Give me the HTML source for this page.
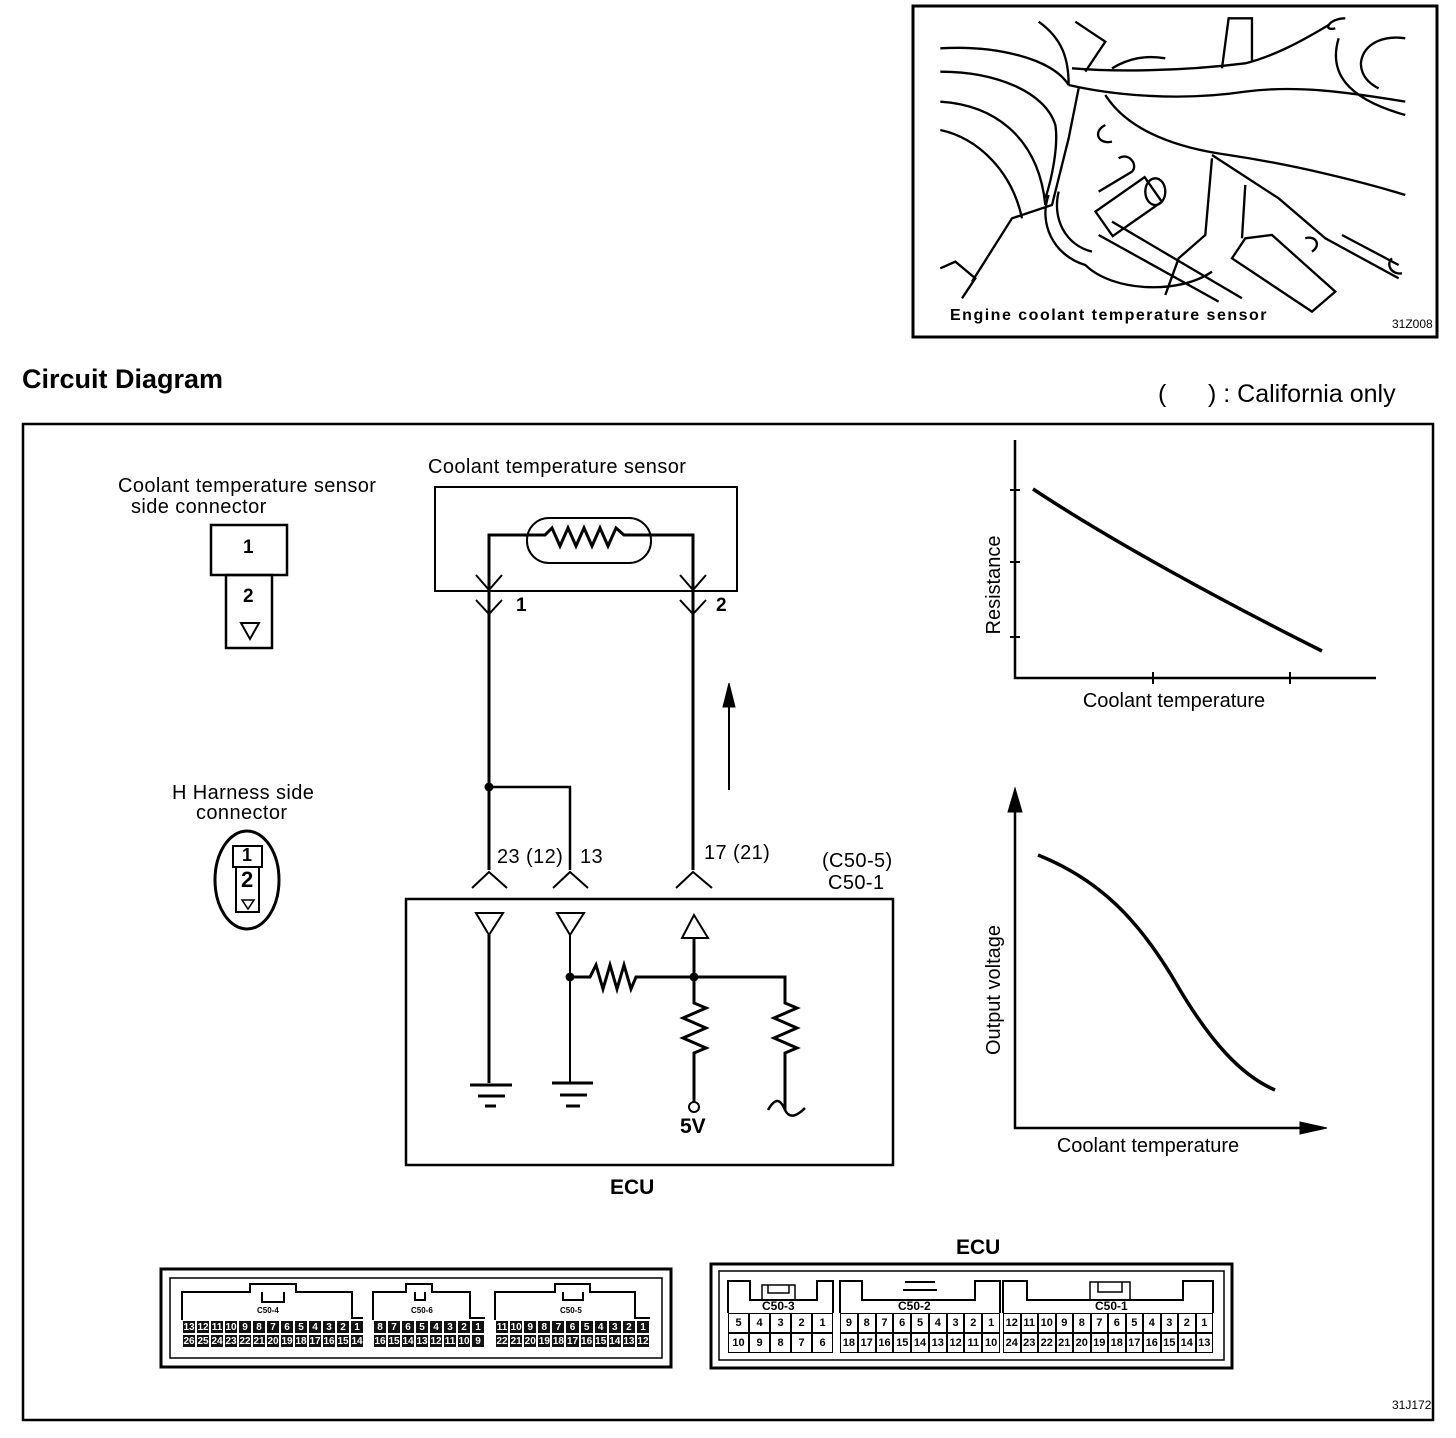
<!DOCTYPE html>
<html><head><meta charset="utf-8"><style>
body{margin:0;background:#fff;width:1456px;height:1438px;position:relative;overflow:hidden;font-family:"Liberation Sans",Arial,sans-serif;}
.t{position:absolute;white-space:nowrap;color:#000;}
.l{font-size:20px;letter-spacing:0.4px;}
.row{position:absolute;display:flex;box-sizing:border-box;}
.row span{flex:1;border:1px solid #000;box-sizing:border-box;text-align:center;font-weight:bold;font-size:11px;line-height:13px;overflow:hidden;}
.dk span{background:#111;color:#fff;border-color:#fff;font-size:10px;}
.wk span{background:#fff;border:1.5px solid #000;}
</style></head><body>
<svg width="1456" height="1438" style="position:absolute;left:0;top:0" xmlns="http://www.w3.org/2000/svg">
<g fill="none" stroke="#000">
<rect x="913" y="6" width="524" height="331" stroke-width="3"/>
<g transform="translate(912,5) scale(0.3333)" stroke-width="7">
<path d="M85,130 C250,120 420,160 470,240"/>
<path d="M85,200 C250,200 400,260 430,360 C440,420 420,520 400,580"/>
<path d="M85,290 C250,300 380,400 400,600"/>
<path d="M85,375 C200,400 300,500 330,640"/>
<path d="M470,240 C600,270 800,290 1000,260 C1150,240 1300,260 1480,290"/>
<path d="M480,190 C600,200 800,200 1000,175 C1100,150 1200,90 1250,60"/>
<path d="M380,50 C450,100 470,160 470,240"/>
<path d="M490,50 L580,110 L520,200"/>
<path d="M600,190 C650,160 700,150 760,160"/>
<path d="M580,270 C650,380 800,430 950,450 C1150,480 1350,530 1480,570"/>
<path d="M1280,100 C1250,200 1300,280 1480,330"/>
<path d="M1480,100 C1350,80 1300,200 1400,250"/>
<path d="M1300,40 C1250,40 1230,80 1270,70"/>
<path d="M930,190 L950,40 L1020,40 L1020,170"/>
<path d="M900,450 L1100,580 L1240,700 L1460,820"/>
<path d="M500,250 L470,400 L420,600 L300,640 L180,830"/>
<path d="M410,570 C380,650 420,750 520,780 C600,860 800,870 900,800"/>
<path d="M440,560 C420,640 460,720 540,740"/>
<rect x="560" y="560" width="180" height="90" transform="rotate(-35 650 605)"/>
<ellipse cx="730" cy="560" rx="30" ry="40"/>
<path d="M560,690 L920,890 M600,650 L990,880"/>
<path d="M1000,700 L1080,690 L1270,860 L1200,920 L960,760 Z"/>
<path d="M1180,700 C1210,690 1230,720 1200,740"/>
<path d="M900,460 L880,690 L800,760 L760,870"/>
<path d="M1000,540 L990,700"/>
<path d="M1290,690 L1460,780 M1440,760 C1420,780 1440,810 1470,805"/>
<path d="M85,790 L130,770 L190,820 L150,880"/>
<path d="M620,460 C650,440 680,480 660,500 L560,560"/>
<path d="M580,360 C540,380 560,420 600,410"/>
</g>
<rect x="23" y="424" width="1410" height="996" stroke-width="2.5"/>
<rect x="211" y="525" width="76" height="50" stroke-width="2.5"/>
<rect x="226" y="575" width="46" height="73" stroke-width="2.5"/>
<path d="M241,623 L259,623 L250,639 Z" stroke-width="2"/>
<ellipse cx="247" cy="880" rx="32" ry="49" stroke-width="3"/>
<rect x="233" y="846" width="29" height="21" stroke-width="2"/>
<rect x="236" y="867" width="23" height="45" stroke-width="2"/>
<path d="M242,900 L254,900 L248,909 Z" stroke-width="1.5"/>
<rect x="435" y="487" width="302" height="104" stroke-width="2"/>
<rect x="527" y="518" width="124" height="45" rx="22" stroke-width="2"/>
<path d="M489,870 L489,535 L545,535 L552,528 L560,546 L568,528 L576,546 L584,528 L592,546 L600,528 L608,546 L616,528 L624,535 L693,535 L693,870" stroke-width="3"/>
<path d="M476,575 L489,590 L502,575 M476,600 L489,614 L502,600 M680,575 L693,590 L706,575 M680,600 L693,614 L706,600" stroke-width="2"/>
<path d="M489,787 L570,787 L570,870" stroke-width="2.5"/>
<circle cx="489" cy="787" r="4" fill="#000"/>
<path d="M729,790 L729,700" stroke-width="2"/>
<path d="M723,707 L729,683 L735,707 Z" fill="#000"/>
<path d="M472,888 L489,872 L507,888 M553,888 L570,872 L588,888 M676,888 L693,872 L712,888" stroke-width="2"/>
<rect x="406" y="899" width="487" height="266" stroke-width="2.5"/>
<path d="M476,913 L503,913 L489,935 Z" stroke-width="2"/>
<path d="M489,935 L489,1083" stroke-width="3"/>
<path d="M470,1085 L512,1085 M478,1096 L505,1096 M485,1106 L496,1106" stroke-width="3"/>
<path d="M557,913 L584,913 L570,935 Z" stroke-width="2"/>
<path d="M570,935 L570,1083" stroke-width="2"/>
<path d="M552,1083 L593,1083 M560,1095 L587,1095 M566,1106 L580,1106" stroke-width="3"/>
<path d="M570,977 L590,977 L596,965 L603,989 L610,965 L617,989 L624,965 L631,989 L636,977 L785,977 L785,1003 L797,1008 L774,1018 L797,1028 L774,1038 L797,1048 L785,1053 L785,1110" stroke-width="3"/>
<path d="M768,1110 C775,1098 780,1098 785,1110 C790,1120 798,1115 805,1108" stroke-width="2.5"/>
<circle cx="570" cy="977" r="4" fill="#000"/>
<path d="M682,938 L708,938 L694,915 Z" stroke-width="2"/>
<path d="M694,938 L694,1003 L706,1008 L683,1018 L706,1028 L683,1038 L706,1048 L694,1053 L694,1102" stroke-width="3"/>
<circle cx="694" cy="977" r="4" fill="#000"/>
<circle cx="694" cy="1107" r="5" stroke-width="2"/>
<path d="M1015,440 L1015,678 L1376,678" stroke-width="2.5"/>
<path d="M1010,490 L1020,490 M1010,562 L1020,562 M1010,637 L1020,637 M1153,672 L1153,684 M1290,672 L1290,684" stroke-width="2"/>
<path d="M1033,489 C1110,540 1220,600 1322,651" stroke-width="3.5"/>
<path d="M1015,800 L1015,1128 L1310,1128" stroke-width="2.5"/>
<path d="M1008,812 L1015,788 L1022,812 Z M1300,1122 L1327,1128 L1300,1134 Z" fill="#000"/>
<path d="M1038,855 C1100,880 1140,920 1180,990 C1210,1040 1240,1075 1275,1090" stroke-width="3.5"/>
<rect x="161" y="1269" width="510" height="98" stroke-width="3"/>
<rect x="170" y="1278" width="492" height="80" stroke-width="1.5"/>
<path d="M182,1320 L182,1292 L250,1292 L250,1284 L296,1284 L296,1292 L352,1292 L352,1292 L352,1318 L363,1318" stroke-width="2"/>
<path d="M262,1292 L262,1302 L284,1302 L284,1292" stroke-width="2"/>
<path d="M373,1320 L373,1292 L406,1292 L406,1284 L432,1284 L432,1292 L470,1292 L470,1318 L485,1318" stroke-width="2"/>
<path d="M415,1292 L415,1300 L425,1300 L425,1292" stroke-width="2"/>
<path d="M495,1320 L495,1292 L555,1292 L555,1284 L590,1284 L590,1292 L635,1292 L635,1318 L650,1318" stroke-width="2"/>
<path d="M563,1292 L563,1300 L583,1300 L583,1292" stroke-width="2"/>
<rect x="711" y="1264" width="521" height="104" stroke-width="3"/>
<rect x="719" y="1271" width="505" height="89" stroke-width="1.5"/>
<path d="M728,1313 L728,1281 L750,1281 L750,1300 L817,1300 L817,1281 L833,1281 L833,1313" stroke-width="2"/>
<path d="M762,1300 L762,1285 L795,1285 L795,1300 M768,1285 L768,1293 L789,1293 L789,1285" stroke-width="1.5"/>
<path d="M840,1313 L840,1281 L862,1281 L862,1300 L975,1300 L975,1281 L1000,1281 L1000,1313" stroke-width="2"/>
<path d="M905,1282 L935,1282 M903,1290 L937,1290" stroke-width="2"/>
<path d="M1003,1313 L1003,1281 L1027,1281 L1027,1300 L1183,1300 L1183,1281 L1213,1281 L1213,1313" stroke-width="2"/>
<path d="M1090,1300 L1090,1282 L1130,1282 L1130,1300 M1098,1282 L1098,1292 L1122,1292 L1122,1282" stroke-width="1.5"/>
</g>
<g font-family="Liberation Sans, Arial, sans-serif" fill="#000">
<text x="950" y="320" font-size="16" font-weight="bold" letter-spacing="1.5">Engine coolant temperature sensor</text>
<text x="1392" y="328" font-size="12">31Z008</text>
<text x="1000" y="585" font-size="20" transform="rotate(-90 1000 585)" text-anchor="middle">Resistance</text>
<text x="1174" y="707" font-size="20" text-anchor="middle">Coolant temperature</text>
<text x="1000" y="990" font-size="20" transform="rotate(-90 1000 990)" text-anchor="middle">Output voltage</text>
<text x="1148" y="1152" font-size="20" text-anchor="middle">Coolant temperature</text>
</g>
</svg>
<div class="t" style="left:22px;top:364px;font-size:27px;font-weight:bold">Circuit Diagram</div>
<div class="t" style="left:1158px;top:380px;font-size:25px">(&nbsp;&nbsp;&nbsp;&nbsp;&nbsp;&nbsp;) : California only</div>
<div class="t l" style="left:118px;top:475px">Coolant temperature sensor</div>
<div class="t l" style="left:131px;top:496px">side connector</div>
<div class="t" style="left:243px;top:537px;font-size:19px;font-weight:bold">1</div>
<div class="t" style="left:243px;top:586px;font-size:19px;font-weight:bold">2</div>
<div class="t l" style="left:172px;top:782px">H Harness side</div>
<div class="t l" style="left:196px;top:802px">connector</div>
<div class="t" style="left:242px;top:845px;font-size:18px;font-weight:bold">1</div>
<div class="t" style="left:241px;top:867px;font-size:22px;font-weight:bold">2</div>
<div class="t l" style="left:428px;top:456px">Coolant temperature sensor</div>
<div class="t" style="left:516px;top:595px;font-size:19px;font-weight:bold">1</div>
<div class="t" style="left:716px;top:595px;font-size:19px;font-weight:bold">2</div>
<div class="t l" style="left:497px;top:846px">23 (12)</div>
<div class="t l" style="left:580px;top:846px">13</div>
<div class="t l" style="left:704px;top:842px">17 (21)</div>
<div class="t l" style="left:822px;top:850px">(C50-5)</div>
<div class="t l" style="left:828px;top:872px">C50-1</div>
<div class="t" style="left:680px;top:1115px;font-size:21px;font-weight:bold">5V</div>
<div class="t" style="left:610px;top:1176px;font-size:21px;font-weight:bold">ECU</div>
<div class="t" style="left:956px;top:1236px;font-size:21px;font-weight:bold">ECU</div>
<div class="t" style="left:1392px;top:1398px;font-size:12px">31J172</div>
<div class="t" style="left:257px;top:1306px;font-size:8px;font-weight:bold">C50-4</div>
<div class="t" style="left:411px;top:1306px;font-size:8px;font-weight:bold">C50-6</div>
<div class="t" style="left:560px;top:1306px;font-size:8px;font-weight:bold">C50-5</div>
<div class="t" style="left:762px;top:1299px;font-size:12px;font-weight:bold">C50-3</div>
<div class="t" style="left:898px;top:1299px;font-size:12px;font-weight:bold">C50-2</div>
<div class="t" style="left:1095px;top:1299px;font-size:12px;font-weight:bold">C50-1</div>
<div class="row dk" style="left:182px;top:1320px;width:182px;height:14px"><span>13</span><span>12</span><span>11</span><span>10</span><span>9</span><span>8</span><span>7</span><span>6</span><span>5</span><span>4</span><span>3</span><span>2</span><span>1</span></div>
<div class="row dk" style="left:182px;top:1334px;width:182px;height:14px"><span>26</span><span>25</span><span>24</span><span>23</span><span>22</span><span>21</span><span>20</span><span>19</span><span>18</span><span>17</span><span>16</span><span>15</span><span>14</span></div>
<div class="row dk" style="left:373px;top:1320px;width:112px;height:14px"><span>8</span><span>7</span><span>6</span><span>5</span><span>4</span><span>3</span><span>2</span><span>1</span></div>
<div class="row dk" style="left:373px;top:1334px;width:112px;height:14px"><span>16</span><span>15</span><span>14</span><span>13</span><span>12</span><span>11</span><span>10</span><span>9</span></div>
<div class="row dk" style="left:495px;top:1320px;width:155px;height:14px"><span>11</span><span>10</span><span>9</span><span>8</span><span>7</span><span>6</span><span>5</span><span>4</span><span>3</span><span>2</span><span>1</span></div>
<div class="row dk" style="left:495px;top:1334px;width:155px;height:14px"><span>22</span><span>21</span><span>20</span><span>19</span><span>18</span><span>17</span><span>16</span><span>15</span><span>14</span><span>13</span><span>12</span></div>
<div class="row wk" style="left:728px;top:1313px;width:105px;height:20px"><span style="line-height:18px">5</span><span style="line-height:18px">4</span><span style="line-height:18px">3</span><span style="line-height:18px">2</span><span style="line-height:18px">1</span></div>
<div class="row wk" style="left:728px;top:1333px;width:105px;height:20px"><span style="line-height:18px">10</span><span style="line-height:18px">9</span><span style="line-height:18px">8</span><span style="line-height:18px">7</span><span style="line-height:18px">6</span></div>
<div class="row wk" style="left:840px;top:1313px;width:160px;height:20px"><span style="line-height:18px">9</span><span style="line-height:18px">8</span><span style="line-height:18px">7</span><span style="line-height:18px">6</span><span style="line-height:18px">5</span><span style="line-height:18px">4</span><span style="line-height:18px">3</span><span style="line-height:18px">2</span><span style="line-height:18px">1</span></div>
<div class="row wk" style="left:840px;top:1333px;width:160px;height:20px"><span style="line-height:18px">18</span><span style="line-height:18px">17</span><span style="line-height:18px">16</span><span style="line-height:18px">15</span><span style="line-height:18px">14</span><span style="line-height:18px">13</span><span style="line-height:18px">12</span><span style="line-height:18px">11</span><span style="line-height:18px">10</span></div>
<div class="row wk" style="left:1003px;top:1313px;width:210px;height:20px"><span style="line-height:18px">12</span><span style="line-height:18px">11</span><span style="line-height:18px">10</span><span style="line-height:18px">9</span><span style="line-height:18px">8</span><span style="line-height:18px">7</span><span style="line-height:18px">6</span><span style="line-height:18px">5</span><span style="line-height:18px">4</span><span style="line-height:18px">3</span><span style="line-height:18px">2</span><span style="line-height:18px">1</span></div>
<div class="row wk" style="left:1003px;top:1333px;width:210px;height:20px"><span style="line-height:18px">24</span><span style="line-height:18px">23</span><span style="line-height:18px">22</span><span style="line-height:18px">21</span><span style="line-height:18px">20</span><span style="line-height:18px">19</span><span style="line-height:18px">18</span><span style="line-height:18px">17</span><span style="line-height:18px">16</span><span style="line-height:18px">15</span><span style="line-height:18px">14</span><span style="line-height:18px">13</span></div>
</body></html>
